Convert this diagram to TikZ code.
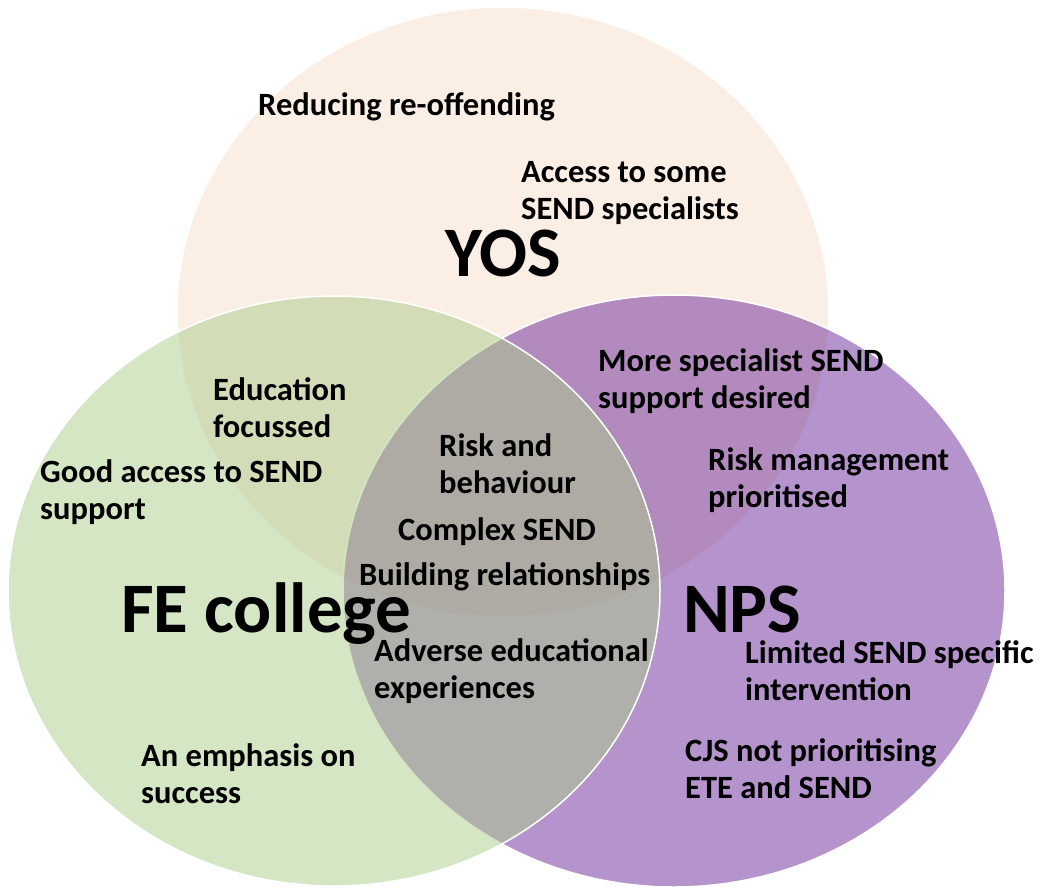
\documentclass[tikz,border=0pt]{standalone}
\usepackage{fontspec}
\setmainfont{Carlito}
\definecolor{yosfill}{RGB}{251,238,229}
\definecolor{npsfill}{RGB}{107,40,153}
\definecolor{fefill}{RGB}{171,205,140}
\begin{document}
\begin{tikzpicture}[x=1pt,y=-1pt,
  lbl/.style={font=\bfseries\fontsize{32.5}{37}\selectfont, anchor=base west, inner sep=0pt, align=left},
  ttl/.style={font=\bfseries\fontsize{71}{80}\selectfont, anchor=base west, inner sep=0pt},
  setshape/.style={draw=white, line width=1.5pt}]
\useasboundingbox (0,0) rectangle (1057,886);
% sets
\filldraw[setshape, fill=yosfill] (503,312) ellipse [x radius=326, y radius=305];
\filldraw[setshape, fill=npsfill, fill opacity=0.5] (674,591) ellipse [x radius=331, y radius=296];
\filldraw[setshape, fill=fefill, fill opacity=0.5] (334,591) ellipse [x radius=326, y radius=295];
% YOS (multi-line nodes are placed by the baseline of their last line)
\node[lbl] (reduce) at (258,115) {Reducing re-offending};
\node[lbl] (access) at (521,219) {Access to some\\SEND specialists};
\node[ttl, anchor=base] (yos) at (503,276) {YOS};
% FE college
\node[lbl] (edu) at (213,437) {Education\\focussed};
\node[lbl] (good) at (40,519) {Good access to SEND\\support};
\node[ttl] (fe) at (121,632) {FE college};
\node[lbl] (emph) at (141,803) {An emphasis on\\success};
% centre
\node[lbl] (risk) at (439,493) {Risk and\\behaviour};
\node[lbl] (complex) at (398,540) {Complex SEND};
\node[lbl] (build) at (359,585) {Building relationships};
\node[lbl] (adverse) at (374,698) {Adverse educational\\experiences};
% NPS
\node[lbl] (more) at (598,408) {More specialist SEND\\support desired};
\node[lbl] (riskm) at (708,507) {Risk management\\prioritised};
\node[ttl] (nps) at (683,632) {NPS};
\node[lbl] (limited) at (745,700) {Limited SEND specific\\intervention};
\node[lbl] (cjs) at (685,798) {CJS not prioritising\\ETE and SEND};
\end{tikzpicture}
\end{document}
